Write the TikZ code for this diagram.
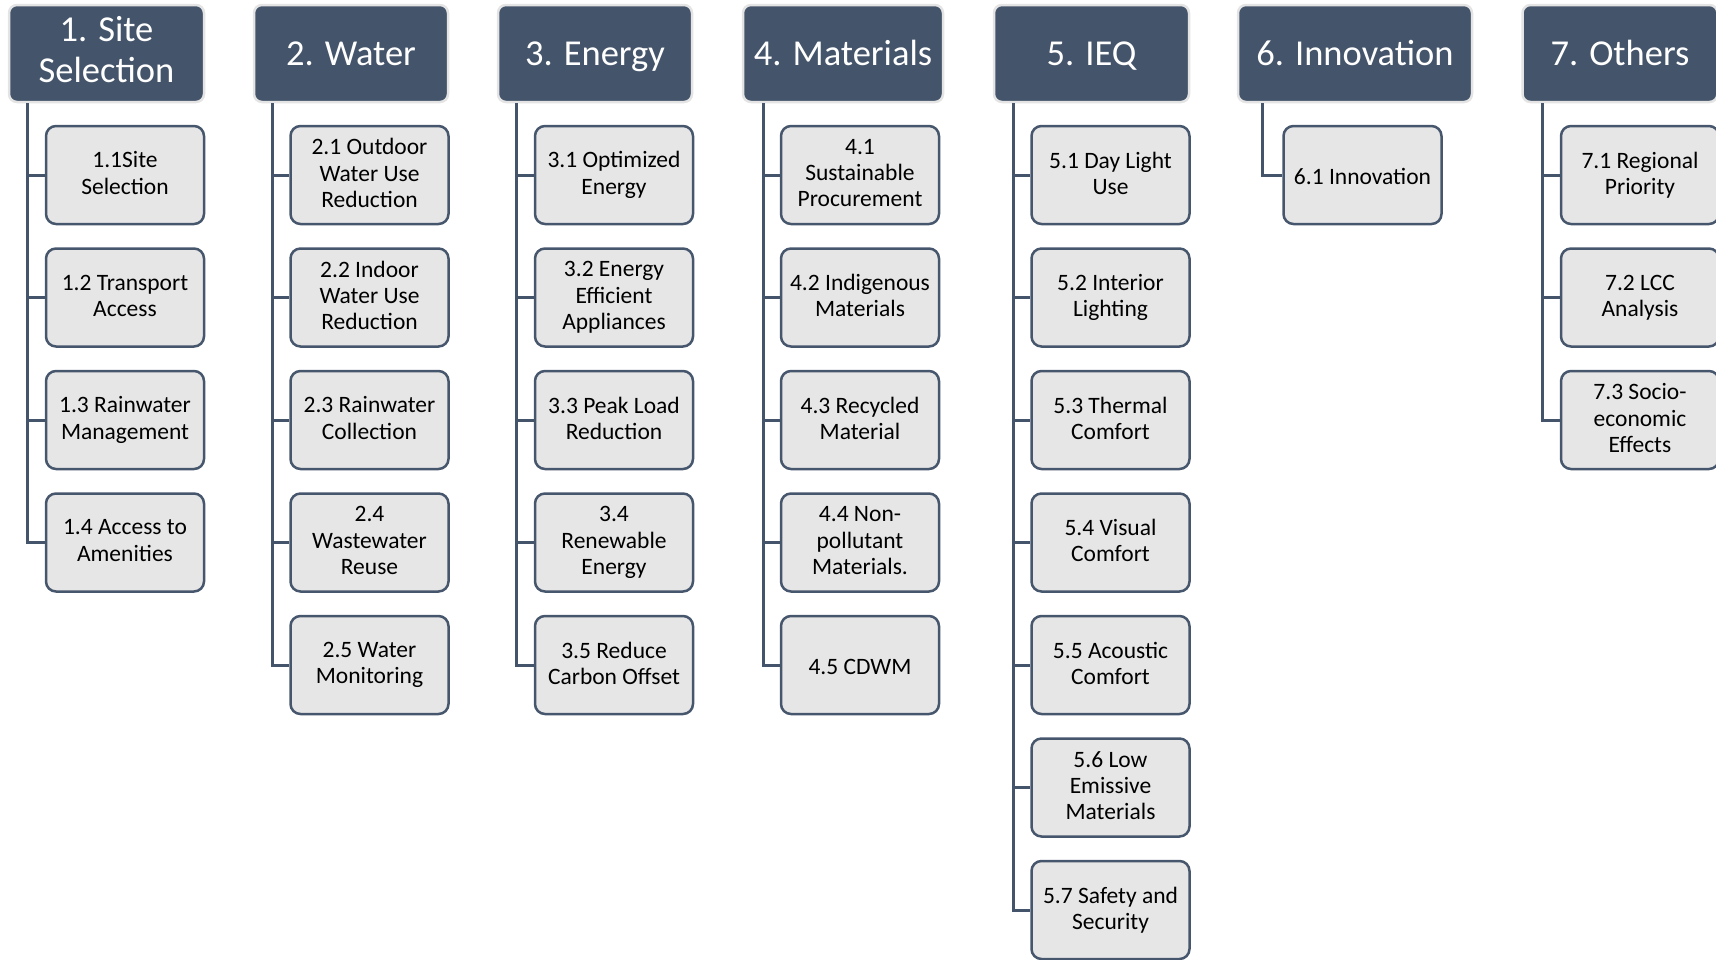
\documentclass[tikz,border=0pt]{standalone}
\usepackage{fontspec}
\setmainfont{Carlito}
\definecolor{hdrfill}{HTML}{44546A}
\definecolor{hdredge}{HTML}{E4E4E4}
\definecolor{boxfill}{HTML}{E7E6E6}
\definecolor{boxedge}{HTML}{46566C}
\newcommand\hdrstrut{\rule[-0.2\baselineskip]{0pt}{\baselineskip}}
\newcommand\substrut{\rule[-0.15\baselineskip]{0pt}{\baselineskip}}
\tikzset{
  hdr/.style={draw=hdredge, line width=2.5pt, fill=hdrfill, rounded corners=8pt,
    text=white, align=center, minimum height=97pt, inner sep=2pt,
    font={\fontsize{36.5pt}{40.5pt}\selectfont},
    execute at begin node=\hdrstrut, execute at end node=\hdrstrut},
  sub/.style={draw=boxedge, line width=2.5pt, fill=boxfill, rounded corners=10pt,
    text=black, align=center, minimum width=158pt, minimum height=98pt, inner sep=2pt,
    font={\fontsize{23.5pt}{26.3pt}\selectfont},
    execute at begin node=\substrut, execute at end node=\substrut},
  conn/.style={draw=hdrfill, line width=3pt}
}
\begin{document}
\begin{tikzpicture}[x=1pt,y=-1pt]
\useasboundingbox (0,0) rectangle (1716,959);
% headers
\node[hdr, minimum width=195pt] (h1) at (106.5,53.5) {1. Site\\Selection};
\node[hdr, minimum width=194pt] (h2) at (351,53.5) {2. Water};
\node[hdr, minimum width=194pt] (h3) at (595,53.5) {3. Energy};
\node[hdr, minimum width=200pt] (h4) at (843,53.5) {4. Materials};
\node[hdr, minimum width=195pt] (h5) at (1091.5,53.5) {5. IEQ};
\node[hdr, minimum width=234pt] (h6) at (1355,53.5) {6. Innovation};
\node[hdr, minimum width=195pt] (h7) at (1620,53.5) {7. Others};
% trunk x positions
\coordinate (t1) at (27,0);
\coordinate (t2) at (272.5,0);
\coordinate (t3) at (516.5,0);
\coordinate (t4) at (763,0);
\coordinate (t5) at (1013,0);
\coordinate (t6) at (1262,0);
\coordinate (t7) at (1542,0);
% column 1
\node[sub] (c11) at (125,175) {1.1Site\\Selection};
\node[sub] (c12) at (125,297.5) {1.2 Transport\\Access};
\node[sub] (c13) at (125,420) {1.3 Rainwater\\Management};
\node[sub] (c14) at (125,542.5) {1.4 Access to\\Amenities};
% column 2
\node[sub] (c21) at (369.5,175) {2.1 Outdoor\\Water Use\\Reduction};
\node[sub] (c22) at (369.5,297.5) {2.2 Indoor\\Water Use\\Reduction};
\node[sub] (c23) at (369.5,420) {2.3 Rainwater\\Collection};
\node[sub] (c24) at (369.5,542.5) {2.4\\Wastewater\\Reuse};
\node[sub] (c25) at (369.5,665) {2.5 Water\\Monitoring};
% column 3
\node[sub] (c31) at (614,175) {3.1 Optimized\\Energy};
\node[sub] (c32) at (614,297.5) {3.2 Energy\\Efficient\\Appliances};
\node[sub] (c33) at (614,420) {3.3 Peak Load\\Reduction};
\node[sub] (c34) at (614,542.5) {3.4\\Renewable\\Energy};
\node[sub] (c35) at (614,665) {3.5 Reduce\\Carbon Offset};
% column 4
\node[sub] (c41) at (860,175) {4.1\\Sustainable\\Procurement};
\node[sub] (c42) at (860,297.5) {4.2 Indigenous\\Materials};
\node[sub] (c43) at (860,420) {4.3 Recycled\\Material};
\node[sub] (c44) at (860,542.5) {4.4 Non-\\pollutant\\Materials.};
\node[sub] (c45) at (860,665) {4.5 CDWM};
% column 5
\node[sub] (c51) at (1110.5,175) {5.1 Day Light\\Use};
\node[sub] (c52) at (1110.5,297.5) {5.2 Interior\\Lighting};
\node[sub] (c53) at (1110.5,420) {5.3 Thermal\\Comfort};
\node[sub] (c54) at (1110.5,542.5) {5.4 Visual\\Comfort};
\node[sub] (c55) at (1110.5,665) {5.5 Acoustic\\Comfort};
\node[sub] (c56) at (1110.5,787.5) {5.6 Low\\Emissive\\Materials};
\node[sub] (c57) at (1110.5,910) {5.7 Safety and\\Security};
% column 6
\node[sub] (c61) at (1362.5,175) {6.1 Innovation};
% column 7
\node[sub] (c71) at (1640,175) {7.1 Regional\\Priority};
\node[sub] (c72) at (1640,297.5) {7.2 LCC\\Analysis};
\node[sub] (c73) at (1640,420) {7.3 Socio-\\economic\\Effects};
% connectors: trunk ending in last child, branches to others
\draw[conn] (t1 |- h1.south) |- (c14.west);
\foreach \c in {c11,c12,c13} \draw[conn] (t1 |- \c.west) -- (\c.west);
\draw[conn] (t2 |- h2.south) |- (c25.west);
\foreach \c in {c21,c22,c23,c24} \draw[conn] (t2 |- \c.west) -- (\c.west);
\draw[conn] (t3 |- h3.south) |- (c35.west);
\foreach \c in {c31,c32,c33,c34} \draw[conn] (t3 |- \c.west) -- (\c.west);
\draw[conn] (t4 |- h4.south) |- (c45.west);
\foreach \c in {c41,c42,c43,c44} \draw[conn] (t4 |- \c.west) -- (\c.west);
\draw[conn] (t5 |- h5.south) |- (c57.west);
\foreach \c in {c51,c52,c53,c54,c55,c56} \draw[conn] (t5 |- \c.west) -- (\c.west);
\draw[conn] (t6 |- h6.south) |- (c61.west);
\draw[conn] (t7 |- h7.south) |- (c73.west);
\foreach \c in {c71,c72} \draw[conn] (t7 |- \c.west) -- (\c.west);
\end{tikzpicture}
\end{document}
